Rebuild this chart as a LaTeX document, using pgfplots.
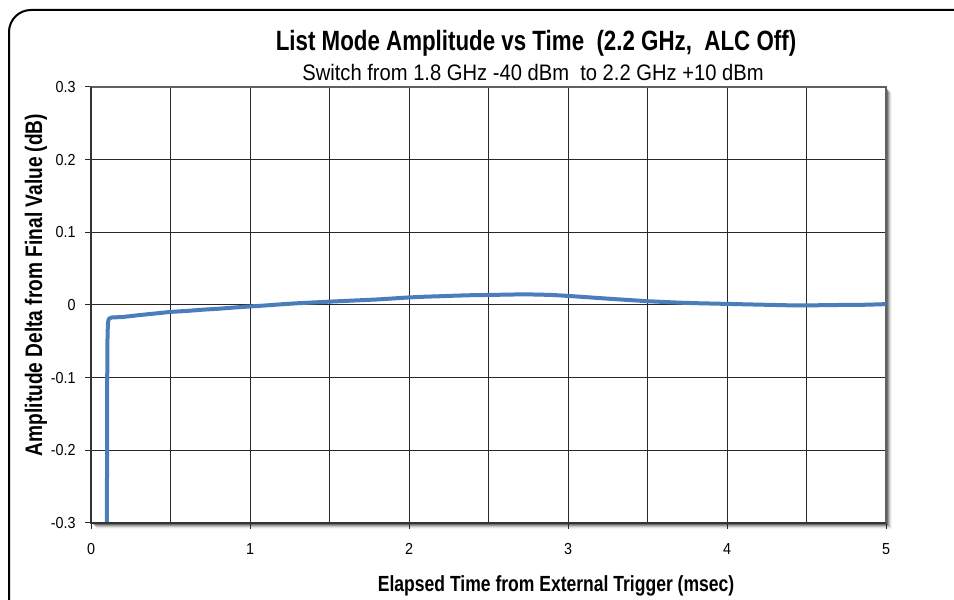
\documentclass[border=0pt]{standalone}
\usepackage{pgfplots}
\pgfplotsset{compat=1.18}
\usepackage{fontspec}
\setmainfont{Liberation Sans}[FakeStretch=0.9, BoldFeatures={FakeStretch=0.8}]
\definecolor{curveblue}{RGB}{74,126,187}
\definecolor{gridgray}{RGB}{40,40,40}

\pgfplotstableread{
x y
0.100 -0.300
0.101 -0.200
0.102 -0.100
0.104 -0.040
0.107 -0.024
0.112 -0.019
0.130 -0.0172
0.200 -0.0165
0.300 -0.0140
0.400 -0.0118
0.500 -0.0095
0.600 -0.0082
0.700 -0.0065
0.800 -0.0052
0.900 -0.0035
1.000 -0.0020
1.100 -0.0006
1.200 0.0010
1.300 0.0024
1.400 0.0035
1.500 0.0046
1.600 0.0056
1.700 0.0066
1.800 0.0076
1.900 0.0090
2.000 0.0104
2.100 0.0114
2.200 0.0121
2.300 0.0129
2.400 0.0135
2.500 0.0138
2.600 0.0142
2.700 0.0146
2.800 0.0144
2.900 0.0138
3.000 0.0125
3.100 0.0110
3.200 0.0095
3.300 0.0080
3.400 0.0066
3.500 0.0052
3.600 0.0042
3.700 0.0032
3.800 0.0025
3.900 0.0020
4.000 0.0015
4.100 0.0010
4.200 0.0005
4.300 0.0000
4.400 -0.0005
4.500 -0.0005
4.600 -0.0003
4.700 0.0000
4.800 0.0000
4.900 0.0005
5.000 0.0012
}\ampdata

\begin{document}
\begin{tikzpicture}[x=1bp,y=1bp]
  \useasboundingbox (0,0) rectangle (954,600);
  % outer frame (continues past the right and bottom edges)
  \draw[line width=2bp, rounded corners=22bp] (9,-40) -- (9,590) -- (990,590);
  % drop shadow of the plot area
  \foreach \o/\op in {1/0.35,2/0.28,3/0.2,4/0.14,5/0.08,6/0.04}{
    \fill[black, opacity=\op] (91+\o,77-\o) rectangle (886+\o,513-\o);
  }
  \fill[white] (91,77) rectangle (886,513);

  \begin{axis}[
    at={(91bp,77bp)}, anchor=south west,
    width=795bp, height=436bp, scale only axis,
    xmin=0, xmax=5, ymin=-0.3, ymax=0.3,
    xtick={0,1,2,3,4,5},
    minor xtick={0.5,1.5,2.5,3.5,4.5},
    ytick={-0.3,-0.2,-0.1,0,0.1,0.2,0.3},
    yticklabels={-0.3,-0.2,-0.1,0,0.1,0.2,0.3},
    grid=both,
    major grid style={gridgray, line width=1bp},
    minor grid style={gridgray, line width=1bp},
    axis line style={draw=gray!75!black, line width=1.5bp},
    tick align=outside, xtick pos=bottom, ytick pos=left,
    major tick length=6bp, minor tick length=0bp,
    tick style={draw=gridgray, line width=1bp},
    ticklabel style={font=\fontsize{16}{18}\selectfont},
    /pgf/number format/assume math mode=true,
    xticklabel style={yshift=-11bp},
    yticklabel style={xshift=-6bp},
    xlabel={\bfseries Elapsed Time from External Trigger (msec)},
    ylabel={\bfseries Amplitude Delta from Final Value (dB)},
    xlabel style={font=\fontsize{22}{24}\selectfont, at={(axis description cs:0.585,0)}, anchor=base, yshift=-69bp},
    ylabel style={font=\fontsize{24}{26}\selectfont, at={(axis description cs:0,0.546)}, anchor=base, yshift=49bp},
  ]
    \addplot[curveblue, line width=4bp, line join=round, mark=none] table[x=x, y=y] {\ampdata};
  \end{axis}
  % darker left and bottom axis lines
  \draw[draw=black!80, line width=2.5bp] (91,513) -- (91,77) -- (886,77);

  \node[font=\bfseries\fontsize{28}{30}\selectfont, anchor=base] at (536,549) {List Mode Amplitude vs Time~~(2.2 GHz,~~ALC Off)};
  \node[font=\fontsize{22.5}{24}\selectfont, anchor=base] at (533,519) {Switch from 1.8 GHz -40 dBm~~to 2.2 GHz +10 dBm};
\end{tikzpicture}
\end{document}
